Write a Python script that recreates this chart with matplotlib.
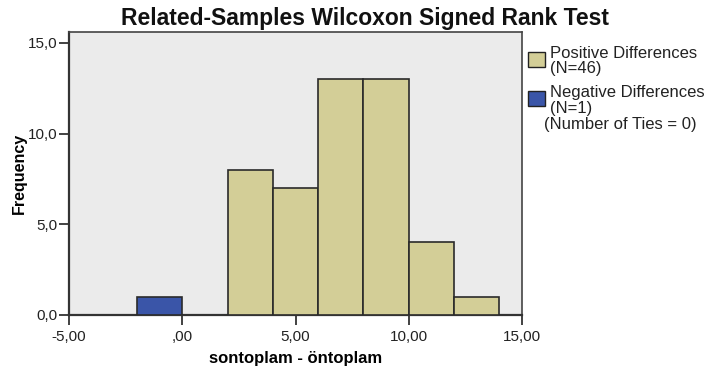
import matplotlib
matplotlib.use("Agg")
import matplotlib.pyplot as plt
from matplotlib.patches import Rectangle

plt.rcParams['font.family'] = ['Liberation Sans', 'DejaVu Sans']

# Data
pos_bin_left = [2, 4, 6, 8, 10, 12]
pos_counts = [8, 7, 13, 13, 4, 1]
neg_bin_left = [-2]
neg_counts = [1]
bin_width = 2
x_ticks = [-5, 0, 5, 10, 15]
x_tick_labels = ["-5,00", ",00", "5,00", "10,00", "15,00"]
y_ticks = [0, 5, 10, 15]
y_tick_labels = ["0,0", "5,0", "10,0", "15,0"]

W, H = 712, 369
fig = plt.figure(figsize=(W / 100, H / 100), dpi=100)
ax = fig.add_axes([69 / W, 1 - 315 / H, (522 - 69) / W, (315 - 32) / H])
ax.set_facecolor('#EBEBEB')

tan = '#D3CE97'
blue = '#3A55A8'
edge = '#2a2a2a'
ax.bar(pos_bin_left, pos_counts, width=bin_width, align='edge', color=tan,
       edgecolor=edge, linewidth=1.2, zorder=3)
ax.bar(neg_bin_left, neg_counts, width=bin_width, align='edge', color=blue,
       edgecolor=edge, linewidth=1.2, zorder=3)

ax.set_xlim(-5, 15)
ax.set_ylim(0, 15.6)
ax.set_xticks(x_ticks)
ax.set_xticklabels(x_tick_labels)
ax.set_yticks(y_ticks)
ax.set_yticklabels(y_tick_labels)
ax.tick_params(axis='both', direction='out', length=7, width=1.3, color='#333333',
               labelsize=11, labelcolor='#222222', pad=1)
ax.tick_params(axis='x', pad=4)

for s in ['left', 'bottom']:
    ax.spines[s].set_linewidth(1.6)
    ax.spines[s].set_color('#333333')
for s in ['top', 'right']:
    ax.spines[s].set_linewidth(1.2)
    ax.spines[s].set_color('#444444')

ax.set_xlabel('sontoplam - öntoplam', fontsize=12, fontweight='bold', labelpad=5)
ax.set_ylabel('Frequency', fontsize=11.5, fontweight='bold', labelpad=1)

fig.text(365 / W, 1 - 18 / H, 'Related-Samples Wilcoxon Signed Rank Test',
         ha='center', va='center', fontsize=16.5, fontweight='bold', color='#111111')

# Legend
def leg_patch(y_top, color):
    r = Rectangle((528 / W, 1 - (y_top + 15) / H), 17 / W, 15 / H,
                  transform=fig.transFigure, facecolor=color,
                  edgecolor='#222222', linewidth=1.0)
    fig.patches.append(r)

leg_patch(52, tan)
leg_patch(91, blue)
fs = 12
fig.text(550 / W, 1 - 53 / H, 'Positive Differences', fontsize=fs, va='center', color='#222222')
fig.text(550 / W, 1 - 69 / H, '(N=46)', fontsize=fs, va='center', color='#222222')
fig.text(550 / W, 1 - 92 / H, 'Negative Differences', fontsize=fs, va='center', color='#222222')
fig.text(550 / W, 1 - 108 / H, '(N=1)', fontsize=fs, va='center', color='#222222')
fig.text(544 / W, 1 - 125 / H, '(Number of Ties = 0)', fontsize=fs, va='center', color='#222222')

fig.savefig('out.png', dpi=100)
